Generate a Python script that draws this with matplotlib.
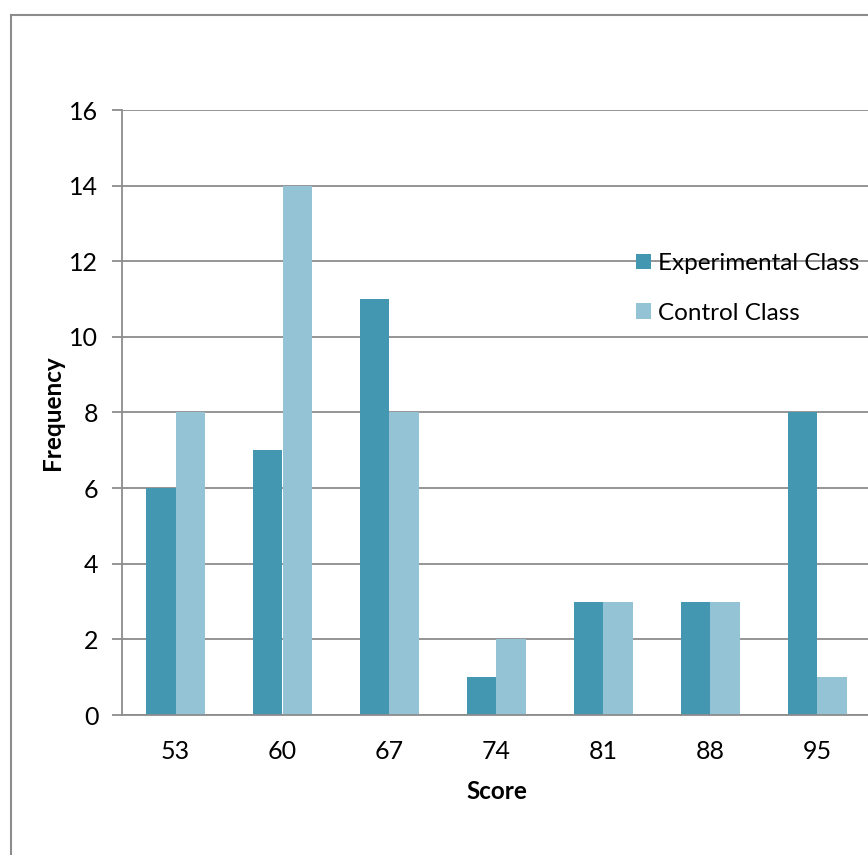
import matplotlib.pyplot as plt
import numpy as np
from matplotlib.lines import Line2D

# data
scores = ["53", "60", "67", "74", "81", "88", "95"]
experimental = [6, 7, 11, 1, 3, 3, 8]
control = [8, 14, 8, 2, 3, 3, 1]

plt.rcParams['font.family'] = ['Lato', 'DejaVu Sans']

fig = plt.figure(figsize=(8.68, 8.55), dpi=100)
ax = fig.add_axes([122/868, 140/855, 749/868, 605/855])

x = np.arange(len(scores))
w = 0.28
ax.bar(x - w/2, experimental, width=w, color="#4397B0", label="Experimental Class", zorder=3)
ax.bar(x + w/2, control, width=w, color="#93C3D5", label="Control Class", zorder=3)

ax.set_xlim(-0.5, len(scores) - 0.5)
ax.set_ylim(0, 16)
ax.set_yticks(range(0, 17, 2))
ax.set_xticks(x)
ax.set_xticklabels(scores)
ax.grid(axis="y", color="#8c8c8c", linewidth=1.3, zorder=0)

for s in ["top", "right"]:
    ax.spines[s].set_visible(False)
for s in ["left", "bottom"]:
    ax.spines[s].set_color("#8c8c8c")
    ax.spines[s].set_linewidth(1.3)
    ax.spines[s].set_zorder(4)

ax.tick_params(axis="y", length=7, width=1.3, color="#8c8c8c", labelsize=18, pad=10)
ax.tick_params(axis="x", length=0, labelsize=18, pad=18)

ax.set_ylabel("Frequency", fontsize=17.5, fontweight="bold", labelpad=4)
ax.set_xlabel("Score", fontsize=17.5, fontweight="bold", labelpad=12)

leg = fig.legend(loc="upper left", bbox_to_anchor=(636/868, 1 - 253/855), frameon=False,
                 fontsize=17.5, handlelength=0.6, handleheight=0.6, handletextpad=0.3,
                 labelspacing=1.18, borderaxespad=0, borderpad=0)

# outer chart border
fig.add_artist(Line2D([11/868, 11/868], [0, 1 - 15/855], color="#8c8c8c", linewidth=1.5))
fig.add_artist(Line2D([11/868, 1], [1 - 15/855, 1 - 15/855], color="#8c8c8c", linewidth=1.5))

fig.savefig("out.png", dpi=100)
